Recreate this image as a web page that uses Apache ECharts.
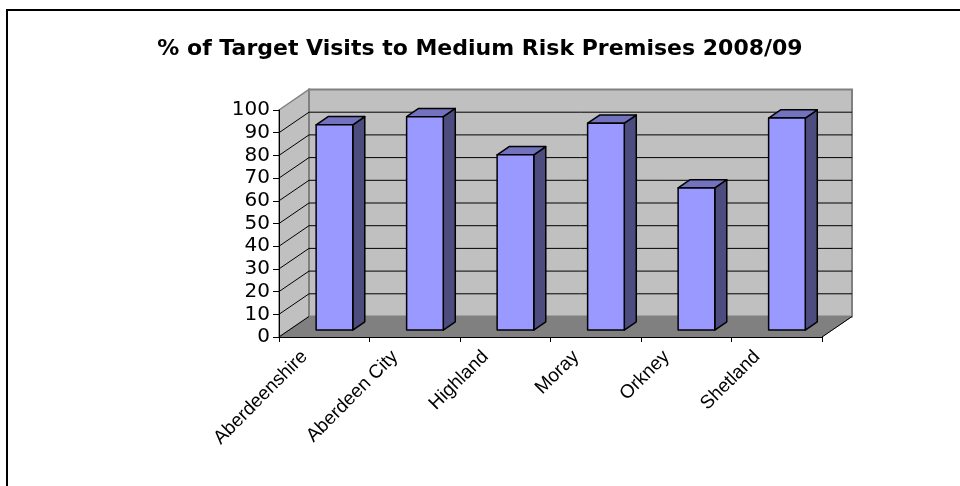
<!DOCTYPE html>
<html>
<head>
<meta charset="utf-8">
<script src="https://cdn.jsdelivr.net/npm/echarts@6/dist/echarts.min.js"></script>
<style>
html,body{margin:0;padding:0;background:#fff;}
#chart{width:960px;height:486px;}
</style>
</head>
<body>
<div id="chart"></div>
<script>
// ---- data ----
const categories = ['Aberdeenshire', 'Aberdeen City', 'Highland', 'Moray', 'Orkney', 'Shetland'];
const values = [90.4, 94.0, 77.2, 91.1, 62.6, 93.4];
const yTicks = [0, 10, 20, 30, 40, 50, 60, 70, 80, 90, 100];
const titleText = '% of Target Visits to Medium Risk Premises 2008/09';

// ---- 3D look ----
const DEPTH = [30, -20.5];     // pixel offset from front plane to back wall
const BAR_F1 = 0.34, BAR_F2 = 0.74;  // bar front/back depth fractions
const BAR_W = 0.405;           // bar width as fraction of category band
const FONT = '"Liberation Sans", Arial, sans-serif';
const WIDE = '"DejaVu Sans", sans-serif';

const chart = echarts.init(document.getElementById('chart'), null, {renderer: 'canvas'});

function renderWalls(params, api) {
  const cs = params.coordSys;
  const L = cs.x, R = cs.x + cs.width;
  const y0 = api.coord([0, 0])[1];
  const y100 = api.coord([0, 100])[1];
  const dx = DEPTH[0], dy = DEPTH[1];
  const children = [];
  children.push({type: 'polygon', shape: {points: [[L, y0], [R, y0], [R + dx, y0 + dy], [L + dx, y0 + dy]]},
    style: {fill: '#808080', stroke: '#808080', lineWidth: 1}});
  children.push({type: 'polygon', shape: {points: [[L, y100], [L + dx, y100 + dy], [L + dx, y0 + dy], [L, y0]]},
    style: {fill: '#C0C0C0', stroke: '#808080', lineWidth: 1.5}});
  children.push({type: 'rect', shape: {x: L + dx, y: y100 + dy, width: R - L, height: y0 - y100},
    style: {fill: '#C0C0C0', stroke: '#808080', lineWidth: 2}});
  yTicks.forEach(function (t) {
    if (t === 0 || t === 100) return;
    const y = api.coord([0, t])[1];
    children.push({type: 'line', shape: {x1: L, y1: y, x2: L + dx, y2: y + dy}, style: {stroke: '#000', lineWidth: 1}});
    children.push({type: 'line', shape: {x1: L + dx, y1: y + dy, x2: R + dx, y2: y + dy}, style: {stroke: '#000', lineWidth: 1}});
  });
  children.push({type: 'line', shape: {x1: L, y1: y0, x2: L + dx, y2: y0 + dy}, style: {stroke: '#000', lineWidth: 1}});
  children.push({type: 'line', shape: {x1: R, y1: y0, x2: R + dx, y2: y0 + dy}, style: {stroke: '#000', lineWidth: 1}});
  return {type: 'group', children: children};
}

function renderBar(params, api) {
  const i = api.value(0), v = api.value(1);
  const base = api.coord([i, 0]);
  const top = api.coord([i, v]);
  const bw = api.size([1, 0])[0] * BAR_W;
  const sx = DEPTH[0] * BAR_F1, sy = DEPTH[1] * BAR_F1;
  const ddx = DEPTH[0] * (BAR_F2 - BAR_F1), ddy = DEPTH[1] * (BAR_F2 - BAR_F1);
  const x0 = base[0] + sx - bw / 2, x1 = x0 + bw;
  const yb = base[1] + sy, yt = top[1] + sy;
  const st = {stroke: '#000', lineWidth: 1.5, lineJoin: 'round'};
  return {type: 'group', children: [
    {type: 'polygon', shape: {points: [[x1, yb], [x1, yt], [x1 + ddx, yt + ddy], [x1 + ddx, yb + ddy]]},
      style: Object.assign({fill: '#4C4C7E'}, st)},
    {type: 'polygon', shape: {points: [[x0, yt], [x1, yt], [x1 + ddx, yt + ddy], [x0 + ddx, yt + ddy]]},
      style: Object.assign({fill: '#7272BE'}, st)},
    {type: 'rect', shape: {x: x0, y: yt, width: bw, height: yb - yt},
      style: Object.assign({fill: '#9999FF'}, st)}
  ]};
}

const option = {
  backgroundColor: '#fff',
  animation: false,
  title: {
    text: titleText, left: 'center', top: 33,
    textStyle: {fontFamily: WIDE, fontSize: 22, fontWeight: 'bold', color: '#000'}
  },
  graphic: [{type: 'rect', shape: {x: 7, y: 10, width: 1000, height: 1000}, style: {fill: 'none', stroke: '#000', lineWidth: 2}, z: 100}],
  grid: {left: 279, right: 138, top: 110, bottom: 149, containLabel: false},
  xAxis: {
    type: 'category', data: categories, z: 10,
    axisLine: {lineStyle: {color: '#000', width: 1}},
    axisTick: {show: true, length: 5, lineStyle: {color: '#000'}},
    axisLabel: {rotate: 45, fontFamily: FONT, fontSize: 19, color: '#000', margin: -3, interval: 0, padding: [0, 28, 0, 0]}
  },
  yAxis: {
    type: 'value', min: 0, max: 100, interval: 10, z: 10,
    axisLine: {show: true, lineStyle: {color: '#000', width: 1}},
    axisTick: {show: true, length: 6, lineStyle: {color: '#000'}},
    axisLabel: {fontFamily: WIDE, fontSize: 20, color: '#000', margin: 9},
    splitLine: {show: false}
  },
  series: [
    {type: 'custom', renderItem: renderWalls, data: [[0, 0]], z: 1, silent: true, clip: false},
    {type: 'custom', renderItem: renderBar, data: values.map(function (v, i) { return [i, v]; }), z: 2, clip: false,
      encode: {x: 0, y: 1}}
  ]
};
chart.setOption(option);
</script>
</body>
</html>
